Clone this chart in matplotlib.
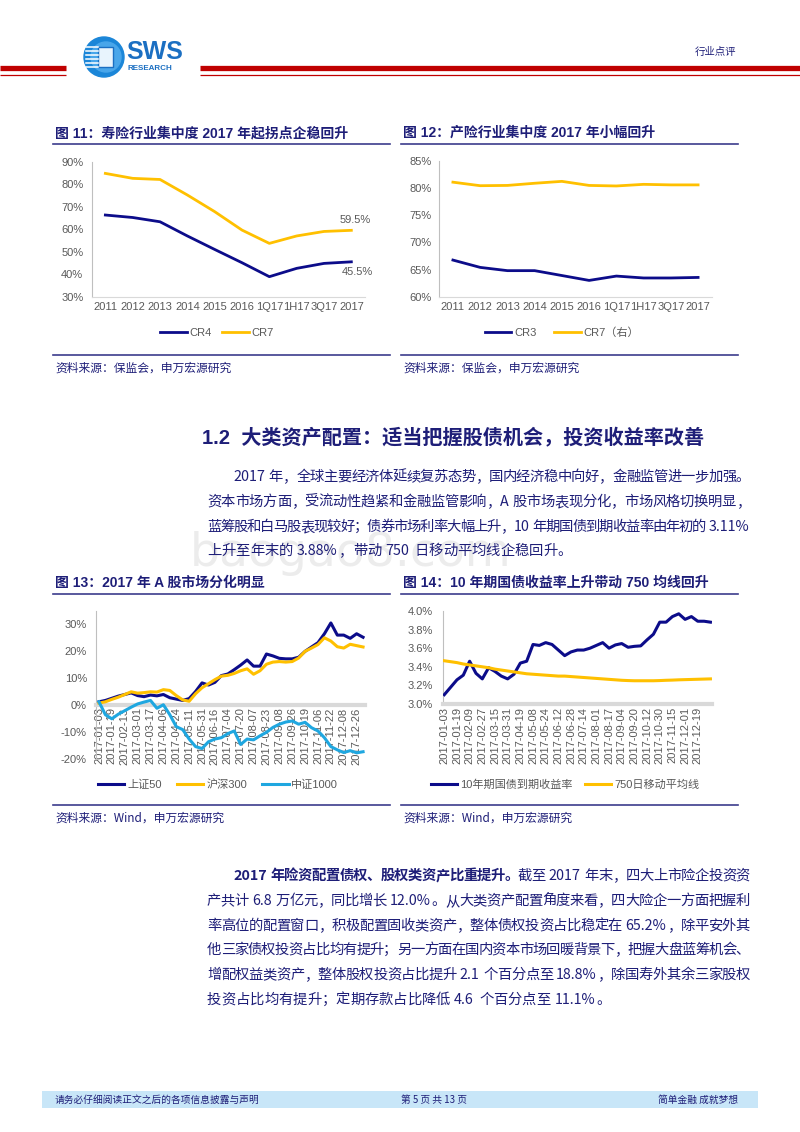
import numpy as np
import matplotlib.pyplot as plt
from matplotlib.font_manager import FontProperties
from matplotlib.patches import Circle, Rectangle
from matplotlib.ticker import FuncFormatter

W, H = 800, 1132
NAVY = '#0c0c8a'
GOLD = '#ffc000'
CYAN = '#1fa7e0'
INK = '#1e1e78'
GRAY = '#595959'
CJK = 'Noto Sans CJK SC'
LAT = 'Liberation Sans'

plt.rcParams['font.family'] = [LAT, CJK]

# ---- fig 11 / 12: concentration ratios (%)
periods = ['2011', '2012', '2013', '2014', '2015', '2016', '1Q17', '1H17', '3Q17', '2017']
life_cr4 = [66.3, 65.2, 63.3, 57.0, 51.0, 45.1, 38.9, 42.6, 44.8, 45.5]
life_cr7 = [84.8, 82.6, 82.1, 75.2, 67.8, 59.6, 53.7, 57.0, 59.0, 59.5]
pc_cr3 = [66.75, 65.4, 64.8, 64.8, 63.9, 63.0, 63.8, 63.45, 63.45, 63.55]
pc_cr7 = [81.1, 80.45, 80.5, 80.9, 81.25, 80.5, 80.4, 80.7, 80.6, 80.6]

# ---- fig 13: 2017 index returns (%), sampled every ~6 trading days
stock_labels = ['2017-01-03', '2017-01-19', '2017-02-13', '2017-03-01', '2017-03-17',
                '2017-04-06', '2017-04-24', '2017-05-11', '2017-05-31', '2017-06-16',
                '2017-07-04', '2017-07-20', '2017-08-07', '2017-08-23', '2017-09-08',
                '2017-09-26', '2017-10-19', '2017-11-06', '2017-11-22', '2017-12-08',
                '2017-12-26']
sz50 = [1.3, 1.8, 2.6, 3.4, 4.0, 4.6, 3.6, 3.2, 3.8, 3.5, 4.0, 2.8, 2.3, 1.8, 2.5,
        5.1, 8.3, 7.5, 8.5, 11.0, 11.6, 13.2, 14.9, 16.8, 14.5, 14.5, 19.0, 18.3,
        17.4, 17.2, 17.2, 17.8, 20.0, 21.6, 23.2, 26.5, 30.5, 26.0, 26.0, 24.8,
        26.5, 25.2]
hs300 = [0.8, 1.3, 2.2, 3.0, 4.0, 5.0, 4.5, 4.7, 5.0, 4.9, 5.8, 5.5, 3.6, 2.0, 1.5,
         4.3, 6.5, 8.0, 9.5, 10.8, 11.1, 11.8, 12.8, 13.5, 11.5, 12.8, 15.2, 16.0,
         16.2, 16.0, 16.2, 17.5, 20.0, 21.2, 22.5, 25.0, 23.8, 21.7, 21.2, 22.6,
         22.1, 21.6]
zz1000 = [1.3, -3.5, -5.0, -3.3, -2.0, -0.7, 0.5, 1.2, 1.8, -1.1, 0.2, -3.5, -7.9,
          -9.0, -12.5, -15.3, -16.0, -13.5, -12.5, -12.0, -10.5, -9.5, -14.5, -12.5,
          -12.8, -11.3, -10.0, -8.2, -7.0, -6.2, -5.8, -7.0, -6.3, -8.3, -9.5, -12.0,
          -15.3, -16.5, -17.5, -16.8, -17.6, -17.2]

# ---- fig 14: 10y government bond yield (%), sampled every ~6 trading days
bond_labels = ['2017-01-03', '2017-01-19', '2017-02-09', '2017-02-27', '2017-03-15',
               '2017-03-31', '2017-04-19', '2017-05-08', '2017-05-24', '2017-06-12',
               '2017-06-28', '2017-07-14', '2017-08-01', '2017-08-17', '2017-09-04',
               '2017-09-20', '2017-10-12', '2017-10-30', '2017-11-15', '2017-12-01',
               '2017-12-19']
yield10 = [3.10, 3.18, 3.26, 3.31, 3.46, 3.33, 3.27, 3.39, 3.35, 3.30, 3.27, 3.32,
           3.44, 3.46, 3.64, 3.63, 3.66, 3.64, 3.58, 3.52, 3.56, 3.58, 3.58, 3.60,
           3.63, 3.66, 3.60, 3.635, 3.65, 3.61, 3.62, 3.625, 3.69, 3.75, 3.88, 3.88,
           3.94, 3.97, 3.91, 3.94, 3.89, 3.89, 3.88]
ma750 = [3.465, 3.455, 3.445, 3.43, 3.42, 3.41, 3.40, 3.39, 3.375, 3.365, 3.355,
         3.345, 3.335, 3.325, 3.32, 3.315, 3.31, 3.305, 3.30, 3.30, 3.295, 3.29,
         3.285, 3.28, 3.275, 3.27, 3.265, 3.26, 3.255, 3.252, 3.25, 3.25, 3.25, 3.25,
         3.252, 3.255, 3.257, 3.26, 3.262, 3.264, 3.266, 3.268, 3.27]

para1 = [
    [('2017 年，全球主要经济体延续复苏态势，国内经济稳中向好，金融监管进一步加强。', 'normal')],
    [('资本市场方面，受流动性趋紧和金融监管影响，A 股市场表现分化，市场风格切换明显，', 'normal')],
    [('蓝筹股和白马股表现较好；债券市场利率大幅上升，10 年期国债到期收益率由年初的 3.11%', 'normal')],
    [('上升至年末的 3.88%，带动 750 日移动平均线企稳回升。', 'normal')],
]
para2 = [
    [('2017 年险资配置债权、股权类资产比重提升。', 'bold'), ('截至 2017 年末，四大上市险企投资资', 'normal')],
    [('产共计 6.8 万亿元，同比增长 12.0%。从大类资产配置角度来看，四大险企一方面把握利', 'normal')],
    [('率高位的配置窗口，积极配置固收类资产，整体债权投资占比稳定在 65.2%，除平安外其', 'normal')],
    [('他三家债权投资占比均有提升；另一方面在国内资本市场回暖背景下，把握大盘蓝筹机会、', 'normal')],
    [('增配权益类资产，整体股权投资占比提升 2.1 个百分点至 18.8%，除国寿外其余三家股权', 'normal')],
    [('投资占比均有提升；定期存款占比降低 4.6 个百分点至 11.1%。', 'normal')],
]

fig = plt.figure(figsize=(W / 100, H / 100), dpi=100)
page = fig.add_axes([0, 0, 1, 1])
page.set_xlim(0, W)
page.set_ylim(H, 0)
page.axis('off')
renderer = fig.canvas.get_renderer()


def box(x0, y0, x1, y1):
    return fig.add_axes([x0 / W, 1 - y1 / H, (x1 - x0) / W, (y1 - y0) / H])


def style(ax, ypad):
    for s in ['top', 'right']:
        ax.spines[s].set_visible(False)
    ax.spines['left'].set_color('#bfbfbf')
    ax.spines['left'].set_linewidth(0.8)
    ax.spines['bottom'].set_color('#d9d9d9')
    ax.spines['bottom'].set_linewidth(0.8)
    ax.tick_params(length=0, labelsize=8, labelcolor=GRAY)
    ax.tick_params(axis='y', pad=ypad)
    ax.set_facecolor('none')


def legend(ax, cx, cy, spacing):
    ax.legend(loc='center', bbox_to_anchor=(cx / W, 1 - cy / H), bbox_transform=fig.transFigure,
              ncol=3, frameon=False, fontsize=8, labelcolor=GRAY, handlelength=2.4,
              handletextpad=0.25, columnspacing=spacing, borderaxespad=0)


def pieces(parts):
    out = []
    for s, wt in parts:
        run = ''
        for ch in s:
            if ch == ' ' or ord(ch) > 127:
                if run:
                    out.append((run, wt))
                    run = ''
                out.append((ch, wt))
            else:
                run += ch
        if run:
            out.append((run, wt))
    return out


def body_line(parts, x0, y, x1=None, size=10.3):
    toks = pieces(parts)
    em = size * 100 / 72
    widths = []
    for s, wt in toks:
        if s == ' ':
            widths.append(em * 0.28)
        elif ord(s[0]) > 127:
            widths.append(em)
        else:
            fp = FontProperties(family=CJK, size=size, weight=wt)
            widths.append(renderer.get_text_width_height_descent(s, fp, ismath=False)[0] + 1)
    gap = 0
    if x1 is not None and len(toks) > 1:
        gap = (x1 - x0 - sum(widths)) / (len(toks) - 1)
    x = x0
    for (s, wt), w in zip(toks, widths):
        if s != ' ':
            page.text(x, y, s, fontsize=size, weight=wt, color=INK, family=CJK,
                      va='center', ha='left')
        x += w + gap


def chart_title(x, y, s, x1):
    page.text(x + 2, y, s, fontsize=10, weight='bold', color=INK, va='center')
    page.plot([x, x1], [y + 11, y + 11], color='#3c3c8c', lw=1.2)


def chart_footer(x, y, s, x1):
    page.plot([x, x1], [y, y], color='#3c3c8c', lw=1.2)
    page.text(x + 2, y + 13, s, fontsize=8.5, color=INK, family=CJK, va='center')


# ---- header
red = '#c00000'
for xa, xb in [(0, 66), (200, 800)]:
    page.plot([xa, xb], [67.5, 67.5], color=red, lw=3.8, solid_capstyle='butt')
    page.plot([xa, xb], [74.5, 74.5], color=red, lw=0.9, solid_capstyle='butt')
page.add_patch(Circle((104, 57), 20, color='#1b86d8', zorder=3))
page.add_patch(Circle((106, 57), 15, color='#49a6ea', zorder=3))
page.add_patch(Rectangle((98, 47), 15, 20, facecolor='#e8f4fd', edgecolor='#1b6fc2', lw=1, zorder=4))
for yy in [47, 51, 55, 59, 63, 67]:
    page.plot([86, 98], [yy, yy], color='white', lw=1.1, zorder=4)
page.text(126, 52, 'SWS', fontsize=18, weight='bold', color='#1b6fc2', va='center', ha='left')
page.text(128, 68, 'RESEARCH', fontsize=5.8, weight='bold', color='#1b6fc2', va='center', ha='left')
page.text(736, 52, '行业点评', fontsize=7.5, color=INK, family=CJK, va='center', ha='right')

# ---- fig 11
chart_title(53, 133, '图 11：寿险行业集中度 2017 年起拐点企稳回升', 390)
ax = box(91.7, 161.7, 365, 296.7)
x = np.arange(len(periods))
ax.plot(x, life_cr4, color=NAVY, lw=2, label='CR4')
ax.plot(x, life_cr7, color=GOLD, lw=2, label='CR7')
ax.set_xlim(-0.5, len(periods) - 0.5)
ax.set_ylim(30, 90)
ax.set_yticks(range(30, 91, 10))
ax.yaxis.set_major_formatter(FuncFormatter(lambda v, p: f'{v:.0f}%'))
ax.set_xticks(x, periods)
style(ax, 6)
ax.tick_params(axis='x', pad=4)
ax.annotate(f'{life_cr7[-1]:.1f}%', (x[-1], life_cr7[-1]), xytext=(3, 4), textcoords='offset points',
            ha='center', va='bottom', fontsize=8, color=GRAY)
ax.annotate(f'{life_cr4[-1]:.1f}%', (x[-1], life_cr4[-1]), xytext=(4, -4), textcoords='offset points',
            ha='center', va='top', fontsize=8, color=GRAY)
legend(ax, 217, 333, 0.9)
chart_footer(53, 355, '资料来源：保监会，申万宏源研究', 390)

# ---- fig 12
chart_title(401, 133, '图 12：产险行业集中度 2017 年小幅回升', 738)
ax = box(439.3, 161.0, 711.7, 296.7)
ax.plot(x, pc_cr3, color=NAVY, lw=2, label='CR3')
ax.plot(x, pc_cr7, color=GOLD, lw=2, label='CR7（右）')
ax.set_xlim(-0.5, len(periods) - 0.5)
ax.set_ylim(60, 85)
ax.set_yticks(range(60, 86, 5))
ax.yaxis.set_major_formatter(FuncFormatter(lambda v, p: f'{v:.0f}%'))
ax.set_xticks(x, periods)
style(ax, 5.5)
ax.tick_params(axis='x', pad=4)
legend(ax, 562, 333, 1.6)
chart_footer(401, 355, '资料来源：保监会，申万宏源研究', 738)

# ---- section heading and paragraph 1
page.text(202, 437, '1.2  大类资产配置：适当把握股债机会，投资收益率改善', fontsize=14.5,
          weight='bold', color=INK, va='center')
page.text(190, 553, 'baogao8.com', fontsize=34, color='#ececec', family='DejaVu Sans',
          va='center', ha='left', zorder=0)
ys = [477, 502, 527, 551]
for i, (parts, y) in enumerate(zip(para1, ys)):
    x0 = 233 if i == 0 else 207
    body_line(parts, x0, y, 750 if i < len(para1) - 1 else None)

# ---- fig 13
chart_title(53, 583, '图 13：2017 年 A 股市场分化明显', 390)
ax = box(96, 610.8, 365, 759.3)
t = np.arange(len(sz50))
ax.plot(t, sz50, color=NAVY, lw=2.2, label='上证50', zorder=3)
ax.plot(t, hs300, color=GOLD, lw=2.2, label='沪深300', zorder=3)
ax.plot(t, zz1000, color=CYAN, lw=2.2, label='中证1000', zorder=3)
ax.set_xlim(-0.46, 41.3)
ax.set_ylim(-20, 35)
style(ax, 6.5)
ax.spines['bottom'].set_position(('data', 0))
ax.spines['bottom'].set_linewidth(3)
ax.set_yticks(range(-20, 31, 10))
ax.yaxis.set_major_formatter(FuncFormatter(lambda v, p: f'{v:.0f}%'))
ax.set_xticks(np.arange(len(stock_labels)) * 2, stock_labels)
ax.tick_params(axis='x', labelrotation=90, pad=1.5, length=0, labelsize=8, labelcolor=GRAY)
ax.tick_params(axis='y', pad=6.5, length=0, labelsize=8, labelcolor=GRAY)
legend(ax, 218, 785, 1.35)
chart_footer(53, 805, '资料来源：Wind，申万宏源研究', 390)

# ---- fig 14
chart_title(401, 583, '图 14：10 年期国债收益率上升带动 750 均线回升', 738)
ax = box(442.7, 611, 711.7, 704)
t = np.arange(len(yield10))
ax.plot(t, yield10, color=NAVY, lw=2.2, label='10年期国债到期收益率', zorder=3)
ax.plot(t, ma750, color=GOLD, lw=2.2, label='750日移动平均线', zorder=3)
ax.set_xlim(-0.25, 42.2)
ax.set_ylim(3.0, 4.0)
ax.set_yticks(np.arange(3.0, 4.01, 0.2))
ax.yaxis.set_major_formatter(FuncFormatter(lambda v, p: f'{v:.1f}%'))
ax.set_xticks(np.arange(len(bond_labels)) * 2, bond_labels, rotation=90)
style(ax, 7)
ax.spines['bottom'].set_linewidth(3)
ax.tick_params(axis='x', pad=2)
legend(ax, 565, 785, 1.1)
chart_footer(401, 805, '资料来源：Wind，申万宏源研究', 738)

# ---- paragraph 2
ys = [876, 901, 926, 950, 975, 1000]
for i, (parts, y) in enumerate(zip(para2, ys)):
    x0 = 233 if i == 0 else 207
    body_line(parts, x0, y, 750 if i < len(para2) - 1 else None)

# ---- footer
page.add_patch(Rectangle((42, 1091), 716, 17, color='#c8e6f8', lw=0, zorder=0))
page.text(55, 1100, '请务必仔细阅读正文之后的各项信息披露与声明', fontsize=7, color=INK,
          family=CJK, va='center')
page.text(434, 1100, '第 5 页 共 13 页', fontsize=7, color=INK, family=CJK, va='center', ha='center')
page.text(738, 1100, '简单金融 成就梦想', fontsize=7, color=INK, family=CJK, va='center', ha='right')

fig.savefig('out.png', dpi=100)
